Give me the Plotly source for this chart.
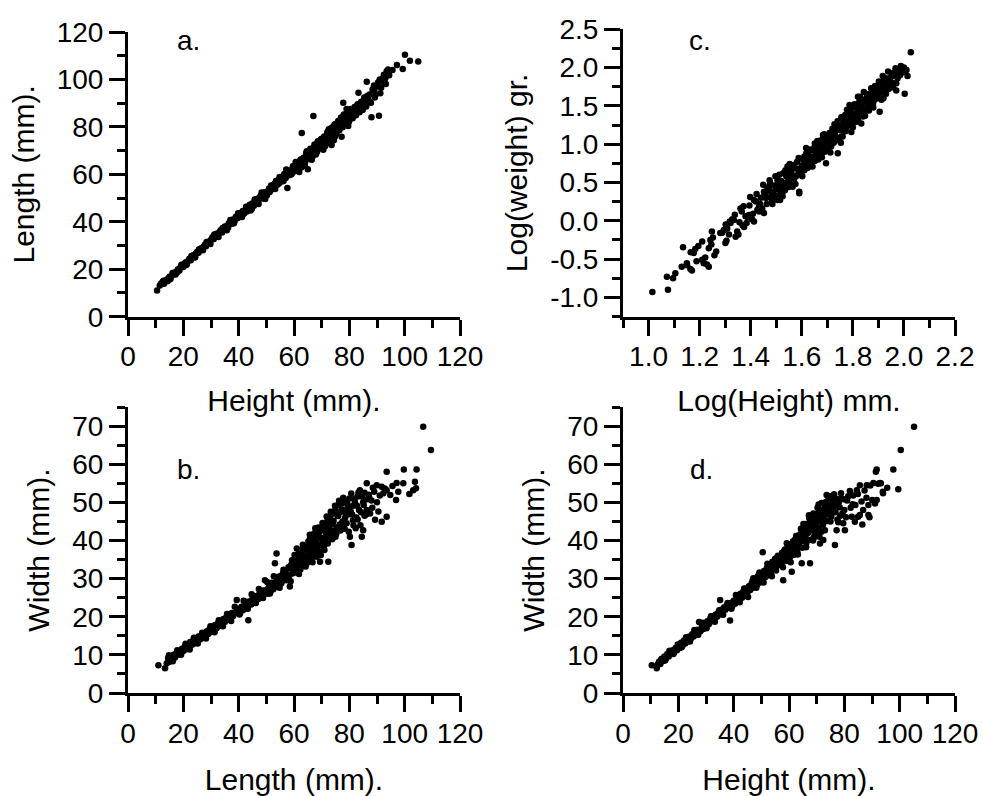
import plotly.graph_objects as go

# ---------------- data ----------------
# Panel a: Length vs Height
a_height = [
    10.5, 11.5, 12.0, 12.5, 13.0, 13.3, 13.8, 14.2, 14.6, 15.0,
    15.4, 15.8, 16.3, 16.8, 17.2, 17.7, 18.1, 18.6, 19.0, 19.5,
    20.0, 20.4, 20.9, 21.3, 21.8, 22.2, 22.7, 23.1, 23.6, 24.0,
    24.5, 25.0, 25.5, 26.0, 26.4, 26.9, 27.3, 27.8, 28.2, 28.7,
    29.1, 29.6, 30.0, 30.5, 31.0, 31.5, 32.0, 32.5, 33.0, 33.5,
    34.0, 34.5, 35.0, 35.5, 36.0, 36.5, 37.0, 37.5, 38.0, 38.5,
    39.0, 39.5, 40.0, 40.5, 41.0, 41.5, 42.0, 42.5, 43.0, 43.5,
    44.0, 44.8, 45.0, 45.5, 46.0, 46.5, 47.0, 47.5, 48.0, 48.5,
    49.0, 49.5, 49.6, 50.5, 51.0, 51.5, 52.0, 52.5, 53.0, 53.5,
    54.0, 54.5, 55.0, 55.5, 56.0, 56.5, 57.0, 57.5, 57.6, 58.5,
    59.0, 59.5, 60.0, 60.5, 61.0, 61.5, 62.0, 62.5, 62.8, 63.0,
    63.5, 64.0, 64.5, 65.0, 65.0, 65.5, 66.0, 66.5, 67.0, 67.0,
    67.5, 68.0, 68.5, 69.0, 69.5, 70.0, 70.5, 71.0, 71.5, 72.0,
    72.5, 73.0, 73.5, 74.0, 74.5, 75.0, 75.5, 76.0, 76.5, 77.0,
    77.2, 77.5, 77.8, 78.0, 78.5, 79.0, 79.5, 80.0, 80.5, 81.0,
    82.0, 82.5, 83.0, 83.3, 83.5, 84.5, 85.0, 85.5, 86.0, 86.3,
    86.5, 87.0, 88.0, 89.0, 89.5, 90.0, 90.7, 91.0, 91.5, 92.0,
    92.5, 93.0, 93.5, 94.0, 95.6, 97.2, 99.3, 100.1, 101.9, 104.9,
    58.0, 60.2, 62.2, 64.2, 66.2, 68.2, 70.2, 72.2, 74.2, 76.2,
    78.2, 80.2, 81.5, 84.0, 75.0, 71.0, 69.0, 73.0, 79.0, 82.0,
    73.6, 63.6, 49.5, 44.1,
    36.2, 38.8, 41.3, 43.8, 46.3, 48.8, 51.2, 52.8, 54.6, 56.3,
    57.8, 58.8, 59.6, 60.8, 61.6, 62.4, 63.2, 64.4, 65.3, 65.9,
    66.7, 67.4, 68.3, 68.9, 69.7, 70.4, 70.9, 71.7, 72.3, 72.9,
    73.4, 74.1, 74.6, 75.3, 75.8, 76.4, 76.9, 77.6, 78.3, 78.8,
    79.4, 79.9, 80.6, 81.2, 81.8, 82.4, 83.1, 83.7, 84.3, 84.8,
    85.4, 86.1, 86.7, 87.3, 87.8, 88.4, 89.2, 90.3, 91.2, 92.2,
    93.2, 94.4, 90.8, 88.9, 61.9, 63.9, 67.9, 71.3, 74.8, 79.6,
    12.8, 14.9, 16.1, 17.9, 19.3, 21.1, 22.9, 24.3, 25.7, 27.1,
    28.4, 29.8, 31.2, 32.7, 34.2, 35.7, 37.2, 38.3, 39.8, 41.2,
    42.7, 44.3, 45.8, 47.2, 48.3, 50.2, 51.7, 53.2, 54.8, 56.2,
    57.2, 59.2, 60.6, 62.6, 64.6, 66.4, 68.6, 70.6, 72.6, 74.4,
]
a_length = [
    11.0, 13.2, 14.0, 14.6, 13.9, 15.0, 15.5, 14.9, 16.2, 16.8,
    16.0, 17.4, 17.9, 18.6, 17.8, 19.3, 20.0, 19.5, 20.8, 21.6,
    21.0, 22.3, 23.0, 22.2, 23.6, 24.4, 23.8, 25.2, 25.9, 25.0,
    26.6, 27.4, 26.9, 28.1, 28.9, 28.3, 29.5, 30.3, 29.7, 30.9,
    31.6, 31.0, 32.4, 33.5, 32.8, 34.0, 35.0, 34.2, 35.6, 36.4,
    35.5, 37.2, 38.0, 36.9, 38.5, 39.5, 40.8, 39.2, 41.0, 40.3,
    42.1, 41.5, 43.0, 42.0, 43.8, 44.6, 43.5, 45.2, 44.3, 46.0,
    47.2, 45.5, 47.8, 46.8, 48.5, 49.6, 48.2, 50.2, 51.0, 49.8,
    51.6, 52.5, 49.6, 52.9, 54.0, 53.2, 55.0, 54.3, 56.0, 57.2,
    55.6, 57.8, 58.6, 57.0, 59.2, 60.2, 58.5, 60.8, 54.2, 61.5,
    60.0, 62.5, 61.2, 63.5, 62.0, 64.2, 65.5, 63.5, 77.4, 66.2,
    67.0, 65.0, 67.8, 69.0, 62.2, 66.5, 70.0, 68.0, 84.6, 71.2,
    69.5, 72.5, 70.2, 73.8, 71.5, 75.0, 72.8, 76.0, 74.0, 77.5,
    75.2, 78.8, 76.5, 80.0, 77.6, 81.2, 78.8, 82.5, 80.0, 84.0,
    75.9, 81.5, 90.2, 85.2, 82.6, 84.0, 86.5, 83.0, 87.5, 84.5,
    88.5, 86.0, 89.5, 94.4, 87.5, 90.0, 88.0, 91.5, 89.5, 99.0,
    93.0, 91.0, 84.1, 95.5, 93.5, 97.0, 84.7, 100.0, 96.5, 99.0,
    102.0, 100.5, 103.5, 104.2, 104.0, 106.1, 104.4, 110.4, 107.9, 107.6,
    59.5, 62.8, 64.0, 66.8, 68.8, 71.0, 73.5, 76.0, 78.5, 80.8,
    83.5, 85.5, 86.8, 88.8, 79.5, 73.2, 72.5, 77.2, 87.5, 85.5,
    72.4, 63.6, 50.7, 45.9,
    37.6, 41.2, 42.8, 45.9, 47.9, 51.7, 52.6, 55.6, 56.2, 58.9,
    61.1, 59.9, 63.4, 62.9, 65.1, 66.3, 64.1, 68.9, 67.2, 70.8,
    67.4, 72.6, 69.4, 71.9, 74.7, 71.1, 75.8, 73.1, 78.2, 74.6,
    79.4, 75.7, 80.9, 77.1, 82.0, 78.6, 83.1, 79.8, 84.6, 81.3,
    85.8, 82.2, 86.3, 83.6, 87.9, 84.9, 88.4, 86.2, 90.6, 87.1,
    92.4, 88.6, 91.8, 93.7, 90.2, 95.8, 92.4, 98.6, 94.2, 100.6,
    98.1, 101.8, 99.1, 97.4, 61.0, 64.3, 68.4, 71.9, 76.0, 80.4,
    15.2, 15.6, 18.4, 18.8, 21.9, 21.8, 25.6, 25.1, 28.4, 28.0,
    31.5, 30.6, 34.6, 33.6, 37.4, 36.4, 40.2, 39.4, 43.6, 42.0,
    46.3, 44.8, 49.4, 47.5, 52.3, 51.2, 55.3, 53.8, 58.9, 57.2,
    62.0, 60.3, 65.2, 62.9, 69.7, 66.2, 73.9, 70.4, 79.0, 74.4,
]

# Panel c: Log(weight) vs Log(Height)
c_log_height = [
    1.015, 1.076, 1.072, 1.096, 1.105, 1.135, 1.130, 1.150, 1.170, 1.177,
    1.183, 1.210, 1.210, 1.216, 1.236, 1.236, 1.242, 1.248, 1.258, 1.281,
    1.295, 1.301, 1.318, 1.334, 1.341, 1.347, 1.360, 1.374, 1.387, 1.413,
    1.413, 1.426, 1.432, 1.452, 1.466, 1.472, 1.479, 1.505, 1.518, 1.531,
    1.538, 1.557, 1.564, 1.571, 1.590, 1.597, 1.610, 1.617, 1.630, 1.643,
    1.662, 1.676, 1.695, 1.702, 1.715, 1.735, 1.741, 1.754, 1.767, 1.780,
    1.787, 1.794, 1.820, 1.820, 1.833, 1.853, 1.866, 1.879, 1.886, 1.905,
    1.918, 1.930, 1.944, 1.963, 1.970, 1.990, 2.003, 2.010, 2.014, 2.027,
    1.151, 1.164, 1.188, 1.165, 1.195, 1.222, 1.229, 1.246, 1.252, 1.265,
    1.288, 1.305, 1.308, 1.321, 1.328, 1.352, 1.365, 1.368, 1.380, 1.393,
    1.405, 1.420, 1.433, 1.445, 1.458, 1.466, 1.479, 1.492, 1.505, 1.518,
    1.544, 1.564, 1.590, 1.485, 1.498, 1.512, 1.525, 1.440, 1.455, 1.395,
    1.520, 1.530, 1.540, 1.550, 1.560, 1.570, 1.580, 1.585, 1.600, 1.605,
    1.610, 1.620, 1.625, 1.630, 1.640, 1.645, 1.650, 1.655, 1.660, 1.665,
    1.670, 1.675, 1.680, 1.685, 1.690, 1.700, 1.705, 1.710, 1.715, 1.720,
    1.725, 1.730, 1.735, 1.740, 1.745, 1.750, 1.755, 1.760, 1.765, 1.770,
    1.775, 1.780, 1.785, 1.790, 1.795, 1.800, 1.805, 1.810, 1.815, 1.820,
    1.825, 1.830, 1.835, 1.840, 1.845, 1.850, 1.855, 1.860, 1.865, 1.870,
    1.875, 1.880, 1.885, 1.890, 1.895, 1.900, 1.905, 1.910, 1.915, 1.920,
    1.925, 1.930, 1.935, 1.940, 1.950, 1.955, 1.960, 1.975, 1.980, 1.985,
    2.000, 1.995, 1.760, 1.800, 1.840, 1.880, 1.920, 1.970, 1.690, 1.650,
    1.452, 1.463, 1.476, 1.488, 1.497, 1.508, 1.515, 1.527, 1.534, 1.546,
    1.553, 1.561, 1.575, 1.582, 1.593, 1.602, 1.614, 1.622, 1.634, 1.642,
    1.653, 1.661, 1.668, 1.679, 1.688, 1.696, 1.704, 1.712, 1.722, 1.728,
    1.737, 1.748, 1.753, 1.762, 1.771, 1.777, 1.783, 1.792, 1.798, 1.807,
    1.812, 1.823, 1.828, 1.837, 1.843, 1.848, 1.858, 1.863, 1.872, 1.877,
    1.887, 1.893, 1.902, 1.908, 1.917, 1.923, 1.933, 1.938, 1.946, 1.953,
    1.967, 1.978, 1.988, 1.958, 1.912, 1.868, 1.826, 1.786, 1.746, 1.706,
    1.302, 1.315, 1.338, 1.356, 1.372, 1.384, 1.398, 1.409, 1.423, 1.437,
    1.449, 1.461, 1.474, 1.483, 1.494, 1.503, 1.512, 1.523, 1.536, 1.548,
    1.566, 1.578, 1.588, 1.607, 1.618, 1.636, 1.651, 1.667, 1.683, 1.698,
]
c_log_weight = [
    -0.93, -0.90, -0.73, -0.75, -0.685, -0.346, -0.60, -0.555, -0.65, -0.42,
    -0.37, -0.27, -0.51, -0.555, -0.60, -0.36, -0.25, -0.14, -0.45, -0.16,
    -0.12, -0.29, -0.01, 0.01, -0.21, -0.14, 0.16, -0.08, 0.05, -0.01,
    0.27, 0.14, 0.18, 0.10, 0.40, 0.445, 0.315, 0.27, 0.36, 0.49,
    0.60, 0.66, 0.445, 0.73, 0.36, 0.62, 0.84, 0.95, 0.71, 0.79,
    1.01, 0.88, 0.75, 1.055, 0.97, 1.25, 0.88, 1.10, 1.23, 1.34,
    1.51, 1.16, 1.62, 1.32, 1.27, 1.45, 1.58, 1.53, 1.64, 1.425,
    1.75, 1.66, 1.84, 1.90, 1.795, 1.99, 1.66, 1.97, 1.89, 2.20,
    -0.58, -0.63, -0.53, -0.41, -0.33, -0.48, -0.57, -0.31, -0.22, -0.40,
    -0.155, -0.26, -0.10, -0.03, 0.02, -0.18, 0.12, -0.06, 0.06, 0.075,
    0.02, 0.25, 0.12, 0.16, 0.30, 0.43, 0.38, 0.315, 0.53, 0.40,
    0.71, 0.47, 0.38, 0.22, 0.42, 0.47, 0.32, 0.30, 0.35, 0.20,
    0.52, 0.45, 0.58, 0.50, 0.62, 0.55, 0.68, 0.60, 0.72, 0.80,
    0.66, 0.78, 0.86, 0.80, 0.92, 0.84, 0.96, 0.86, 0.90, 0.80,
    0.98, 1.05, 0.93, 1.08, 1.00, 1.12, 0.96, 1.15, 1.07, 1.20,
    1.02, 1.12, 1.18, 1.30, 1.08, 1.25, 1.35, 1.18, 1.28, 1.38,
    1.22, 1.30, 1.42, 1.35, 1.26, 1.40, 1.32, 1.48, 1.38, 1.44,
    1.55, 1.40, 1.50, 1.58, 1.45, 1.55, 1.62, 1.50, 1.66, 1.56,
    1.62, 1.70, 1.58, 1.68, 1.74, 1.62, 1.72, 1.78, 1.68, 1.82,
    1.74, 1.86, 1.78, 1.72, 1.88, 1.80, 1.92, 1.86, 1.96, 1.90,
    2.00, 1.94, 1.10, 1.22, 1.36, 1.48, 1.60, 1.70, 0.90, 0.78,
    0.38, 0.22, 0.49, 0.36, 0.58, 0.41, 0.27, 0.62, 0.40, 0.53,
    0.74, 0.57, 0.48, 0.77, 0.67, 0.58, 0.74, 0.69, 0.93, 0.71,
    0.79, 1.04, 0.91, 0.83, 1.13, 0.92, 1.02, 0.89, 1.10, 1.26,
    1.05, 1.19, 1.02, 1.33, 1.17, 1.45, 1.25, 1.46, 1.31, 1.52,
    1.29, 1.36, 1.62, 1.43, 1.68, 1.37, 1.55, 1.44, 1.73, 1.51,
    1.76, 1.60, 1.82, 1.67, 1.89, 1.70, 1.80, 1.95, 1.77, 1.93,
    1.99, 1.92, 2.02, 1.74, 1.58, 1.61, 1.47, 1.35, 1.22, 1.09,
    -0.05, -0.18, 0.08, -0.02, 0.19, -0.03, 0.31, 0.09, 0.35, 0.22,
    0.47, 0.30, 0.53, 0.27, 0.46, 0.33, 0.60, 0.36, 0.66, 0.44,
    0.72, 0.58, 0.82, 0.68, 0.88, 0.74, 1.01, 0.87, 1.12, 0.98,
]

# Panel b: Width vs Length
b_length = [
    11.0, 13.4, 14.0, 14.5, 15.0, 15.5, 16.0, 16.5, 17.0, 17.5,
    18.0, 18.5, 19.0, 19.5, 20.0, 20.5, 21.0, 21.5, 22.0, 22.5,
    23.0, 23.5, 24.0, 24.5, 25.0, 25.5, 26.0, 26.5, 27.0, 27.5,
    28.0, 28.5, 29.0, 29.5, 30.0, 30.5, 31.0, 31.5, 32.0, 32.5,
    33.0, 33.5, 34.0, 34.5, 35.0, 35.5, 36.0, 36.5, 37.0, 37.5,
    38.0, 39.0, 39.3, 40.0, 40.5, 41.0, 42.0, 42.5, 43.0, 43.5,
    44.0, 44.5, 45.0, 45.5, 46.0, 47.0, 47.5, 48.0, 48.5, 49.0,
    49.5, 50.0, 50.5, 51.0, 51.5, 52.0, 52.5, 53.0, 53.1, 53.5,
    53.7, 54.0, 54.5, 55.0, 55.5, 56.0, 56.5, 57.0, 57.5, 58.0,
    58.5, 58.5, 59.0, 59.7, 60.0, 60.5, 61.0, 61.0, 61.5, 62.0,
    62.5, 63.0, 63.5, 64.0, 64.5, 65.0, 65.2, 65.5, 66.0, 66.5,
    67.0, 67.5, 68.0, 68.2, 68.5, 69.0, 69.4, 69.5, 70.0, 70.5,
    71.0, 71.5, 72.0, 72.4, 72.5, 73.0, 73.0, 73.5, 74.0, 74.5,
    75.0, 75.5, 76.0, 76.5, 77.0, 77.2, 77.5, 78.0, 78.5, 79.0,
    79.0, 79.5, 80.0, 80.2, 80.5, 80.8, 81.0, 81.5, 82.0, 82.5,
    83.0, 83.5, 83.8, 84.0, 84.5, 85.0, 85.0, 85.5, 86.3, 86.3,
    87.0, 87.5, 88.0, 89.3, 89.9, 90.0, 91.7, 91.7, 92.3, 93.5,
    93.5, 93.5, 96.9, 97.1, 97.7, 99.5, 99.7, 101.7, 103.1, 103.7,
    104.1, 104.3, 106.7, 109.5, 58.0, 62.0, 64.0, 66.0, 68.0, 70.0,
    72.0, 74.0, 76.0, 78.0, 75.0, 71.0, 67.0, 63.0, 60.0, 57.0,
    55.0, 79.5, 81.0, 83.0, 85.5, 88.5, 84.5, 86.5,
    41.5, 43.2, 44.8, 46.4, 47.8, 49.2, 50.7, 51.8, 52.9, 54.2,
    55.3, 56.2, 57.3, 58.3, 59.3, 59.9, 60.8, 61.7, 62.3, 63.3,
    63.8, 64.7, 65.3, 65.8, 66.3, 66.8, 67.3, 67.8, 68.3, 68.8,
    69.2, 69.8, 70.3, 70.8, 71.3, 71.8, 72.2, 72.8, 73.3, 73.8,
    74.3, 74.8, 75.3, 75.8, 76.3, 76.8, 77.3, 77.8, 78.3, 78.8,
    79.3, 79.8, 80.3, 80.7, 81.3, 81.8, 82.3, 82.8, 83.3, 84.2,
    85.2, 86.0, 87.2, 88.3, 89.0, 90.5, 91.0, 92.8, 94.8, 95.6,
    14.8, 16.2, 17.8, 19.2, 20.8, 22.3, 23.8, 25.2, 26.8, 28.2,
    29.8, 31.3, 32.8, 34.3, 35.8, 37.3, 38.6, 40.3, 41.8, 43.3,
    44.7, 46.2, 47.3, 48.8, 50.3, 51.3, 52.7, 54.8, 56.8, 58.8,
    60.2, 61.8, 63.2, 64.2, 65.7, 66.7, 67.7, 69.7, 71.7, 73.7,
]
b_width = [
    7.3, 6.5, 7.8, 9.2, 8.2, 9.5, 8.8, 10.0, 9.3, 10.4,
    10.0, 11.0, 10.4, 11.6, 11.0, 12.2, 11.5, 12.8, 12.0, 13.4,
    12.6, 13.6, 13.0, 14.2, 13.6, 14.8, 14.0, 15.0, 14.4, 15.6,
    15.0, 16.2, 15.5, 16.8, 16.0, 17.4, 16.6, 17.8, 17.0, 18.2,
    17.6, 18.8, 18.0, 19.4, 18.6, 19.8, 19.2, 20.4, 19.6, 21.0,
    20.2, 21.0, 24.4, 22.0, 21.0, 22.6, 22.0, 23.4, 22.8, 19.1,
    24.0, 23.2, 24.8, 24.0, 25.4, 24.6, 26.0, 25.2, 26.8, 25.8,
    29.6, 27.0, 26.0, 27.8, 26.6, 28.4, 27.2, 29.0, 34.0, 27.8,
    36.6, 29.8, 28.4, 30.6, 29.0, 31.4, 29.8, 32.2, 30.4, 33.0,
    27.9, 31.0, 33.6, 31.4, 34.4, 32.0, 35.2, 37.9, 32.8, 36.0,
    33.6, 36.8, 34.4, 37.6, 35.2, 38.4, 39.7, 35.8, 39.0, 36.4,
    40.0, 37.2, 41.0, 35.7, 38.0, 42.0, 34.4, 38.8, 43.0, 39.6,
    44.0, 40.4, 45.0, 34.4, 41.0, 42.7, 46.0, 41.8, 47.0, 42.6,
    48.0, 43.4, 49.3, 44.2, 47.5, 49.7, 45.0, 48.0, 46.0, 44.5,
    50.0, 46.8, 51.0, 41.0, 47.5, 38.8, 49.0, 44.0, 50.0, 46.0,
    51.5, 48.0, 53.2, 44.0, 41.0, 42.7, 50.0, 46.5, 55.0, 48.0,
    52.0, 47.1, 50.5, 45.4, 54.5, 50.0, 54.1, 44.9, 52.4, 58.0,
    53.2, 46.2, 50.6, 55.1, 52.8, 55.0, 58.6, 52.2, 53.2, 55.4,
    53.7, 58.6, 69.8, 63.7, 30.0, 34.5, 35.0, 37.5, 39.5, 40.5,
    43.0, 44.5, 46.5, 44.0, 41.0, 37.5, 38.5, 35.5, 32.8, 31.0,
    29.4, 48.8, 46.8, 45.5, 52.5, 53.8, 51.5, 50.8,
    21.7, 23.9, 23.5, 24.7, 26.5, 26.9, 27.4, 28.9, 28.1, 30.4,
    28.7, 32.3, 29.6, 32.7, 34.8, 31.9, 33.9, 36.6, 32.4, 37.9,
    35.9, 34.1, 37.2, 40.6, 35.1, 38.3, 41.8, 36.3, 39.2, 43.4,
    37.1, 40.7, 44.6, 38.4, 42.2, 46.3, 39.2, 43.8, 47.5, 40.3,
    45.2, 49.1, 41.8, 46.4, 50.4, 42.6, 48.1, 51.2, 43.1, 47.2,
    49.5, 42.3, 48.6, 52.3, 45.3, 50.9, 43.2, 49.1, 52.6, 47.4,
    49.3, 46.8, 51.2, 48.6, 52.8, 47.6, 51.8, 53.6, 51.9, 54.3,
    9.9, 8.3, 11.2, 10.0, 12.9, 11.4, 14.5, 13.0, 15.8, 14.3,
    17.5, 15.9, 19.1, 17.5, 20.7, 18.9, 22.6, 20.6, 24.2, 22.1,
    25.9, 23.6, 27.3, 24.9, 29.1, 26.1, 30.6, 27.6, 31.3, 29.3,
    36.2, 31.2, 38.9, 33.2, 41.5, 34.3, 43.2, 36.2, 41.1, 44.3,
]

# Panel d: Width vs Height
d_height = [
    10.4, 12.2, 12.5, 13.0, 13.5, 14.0, 14.5, 15.0, 15.5, 16.0,
    16.5, 17.0, 17.5, 18.0, 18.5, 19.0, 19.5, 20.0, 20.5, 21.0,
    21.5, 22.0, 22.5, 23.0, 23.5, 24.0, 24.5, 25.0, 25.5, 26.0,
    26.5, 27.0, 27.5, 28.0, 28.5, 29.0, 29.5, 30.0, 30.5, 31.0,
    31.5, 32.0, 32.5, 33.0, 33.5, 34.0, 34.5, 35.0, 35.1, 35.5,
    36.0, 36.5, 37.0, 37.5, 38.0, 38.7, 39.0, 39.5, 40.0, 40.5,
    41.0, 41.7, 42.0, 42.5, 43.0, 43.5, 44.0, 44.5, 45.0, 45.5,
    46.0, 46.5, 47.0, 47.1, 47.7, 48.0, 48.5, 49.0, 49.5, 50.0,
    50.5, 50.5, 51.0, 51.5, 52.0, 52.5, 53.0, 53.5, 54.0, 54.5,
    55.0, 55.5, 56.0, 56.5, 57.0, 57.5, 57.9, 58.0, 58.5, 59.0,
    59.5, 60.0, 60.5, 61.0, 61.0, 61.5, 62.0, 62.5, 63.0, 63.5,
    64.0, 64.5, 64.6, 65.0, 65.5, 66.0, 66.5, 67.0, 67.6, 67.5,
    68.0, 68.5, 69.0, 69.5, 70.0, 70.5, 71.0, 71.2, 71.5, 72.0,
    72.4, 72.5, 73.0, 73.0, 73.6, 74.0, 74.2, 74.5, 75.0, 75.5,
    76.0, 76.6, 76.5, 77.0, 77.2, 77.5, 78.0, 78.5, 79.0, 79.6,
    80.0, 80.2, 81.0, 82.0, 82.7, 83.0, 83.8, 84.5, 85.0, 85.6,
    85.6, 86.8, 88.1, 88.7, 88.7, 90.5, 91.1, 91.4, 91.7, 91.7,
    92.9, 93.9, 94.0, 95.5, 97.7, 99.5, 100.4, 105.2, 55.0, 58.0,
    60.0, 62.0, 64.0, 66.0, 68.0, 70.0, 72.0, 69.0, 75.0, 63.0,
    53.0, 57.0,
    41.3, 42.8, 44.2, 45.7, 47.3, 48.7, 49.8, 51.2, 52.3, 53.3,
    54.2, 55.3, 56.2, 57.3, 58.2, 58.8, 59.7, 60.3, 60.8, 61.7,
    62.3, 62.8, 63.7, 64.3, 64.8, 65.3, 65.8, 66.3, 66.8, 67.3,
    67.8, 68.3, 68.8, 69.3, 69.8, 70.3, 70.8, 71.3, 71.8, 72.3,
    72.8, 73.3, 73.8, 74.3, 74.8, 75.3, 75.8, 76.3, 76.8, 77.3,
    77.8, 78.3, 78.8, 79.3, 79.8, 80.6, 81.4, 82.3, 83.2, 84.0,
    84.9, 86.2, 87.3, 88.0, 89.4, 90.1, 86.5, 89.1, 92.2, 93.2,
    13.8, 15.2, 16.8, 18.2, 19.8, 21.2, 22.8, 24.2, 25.8, 27.2,
    28.8, 30.2, 31.8, 33.2, 34.8, 36.2, 37.8, 39.2, 40.8, 42.2,
    43.8, 45.2, 46.8, 48.2, 49.3, 50.8, 52.2, 53.8, 55.8, 57.8,
    59.2, 60.6, 62.6, 63.2, 65.2, 66.2, 67.2, 68.7, 70.7, 71.7,
]
d_width = [
    7.3, 6.5, 7.4, 8.2, 7.6, 9.0, 8.4, 9.6, 9.0, 10.2,
    9.6, 10.6, 10.2, 11.2, 10.6, 11.8, 11.2, 12.6, 11.8, 13.2,
    12.4, 13.8, 13.0, 14.2, 13.6, 14.8, 14.2, 15.4, 14.8, 16.0,
    15.4, 16.6, 18.6, 16.2, 17.6, 16.8, 18.2, 17.6, 18.8, 18.0,
    19.4, 18.8, 20.0, 19.2, 20.6, 20.0, 21.2, 20.6, 24.4, 21.8,
    21.2, 22.4, 21.8, 23.0, 22.4, 19.0, 23.6, 22.8, 24.2, 23.4,
    25.0, 25.7, 24.4, 26.0, 25.0, 26.6, 25.8, 27.4, 26.4, 28.0,
    27.0, 28.8, 27.6, 30.1, 29.2, 29.4, 28.4, 30.2, 29.0, 31.0,
    36.9, 29.8, 32.0, 30.4, 32.8, 31.2, 33.6, 31.8, 34.4, 32.6,
    35.2, 33.2, 36.0, 34.0, 34.8, 36.8, 29.6, 35.4, 37.6, 36.0,
    38.4, 36.8, 39.0, 31.8, 37.4, 39.8, 38.0, 40.6, 38.8, 41.4,
    39.6, 42.2, 34.0, 40.4, 43.0, 41.2, 44.0, 42.0, 34.0, 44.8,
    42.8, 45.6, 43.6, 46.4, 44.4, 47.2, 41.0, 39.2, 45.2, 48.0,
    40.1, 46.0, 42.7, 48.8, 51.9, 46.8, 50.6, 49.6, 47.6, 50.4,
    48.4, 38.8, 51.2, 49.2, 42.7, 45.5, 50.0, 46.5, 51.0, 44.5,
    48.0, 42.7, 50.5, 53.0, 46.2, 49.5, 44.9, 53.2, 46.2, 54.5,
    46.7, 48.0, 54.5, 49.3, 46.7, 55.1, 49.7, 58.0, 58.6, 50.6,
    55.1, 52.8, 52.4, 53.8, 58.6, 53.4, 63.7, 69.8, 33.5, 36.2,
    35.0, 39.2, 41.0, 39.8, 44.0, 42.5, 45.5, 40.8, 45.0, 37.0,
    32.0, 35.5,
    24.1, 25.6, 26.9, 27.1, 28.4, 30.6, 29.6, 31.3, 30.9, 32.9,
    33.8, 32.1, 34.7, 33.5, 37.2, 34.6, 37.7, 35.6, 38.9, 36.2,
    40.3, 37.5, 39.7, 43.1, 38.1, 41.6, 44.3, 39.4, 42.9, 45.9,
    40.2, 44.8, 47.1, 41.7, 45.3, 48.6, 43.2, 46.6, 49.8, 44.1,
    47.5, 50.1, 45.1, 48.3, 51.6, 46.3, 49.6, 52.1, 47.4, 50.9,
    44.8, 48.7, 52.4, 47.1, 50.8, 46.1, 51.6, 48.6, 51.8, 49.3,
    52.2, 50.2, 53.1, 51.2, 54.4, 50.6, 44.2, 46.1, 54.9, 55.0,
    8.7, 8.5, 11.1, 10.2, 12.7, 12.0, 14.6, 13.5, 16.5, 15.3,
    18.4, 17.0, 20.1, 18.7, 21.7, 20.5, 23.6, 22.1, 25.7, 23.8,
    27.4, 25.2, 29.4, 27.6, 31.6, 29.0, 33.9, 30.6, 35.6, 33.0,
    39.3, 34.3, 41.2, 36.3, 44.3, 38.2, 46.6, 40.0, 49.4, 42.3,
]

# Tick labels
mm_ticks = [0, 20, 40, 60, 80, 100, 120]
mm_ticktext = ["0", "20", "40", "60", "80", "100", "120"]
width_ticks = [0, 10, 20, 30, 40, 50, 60, 70]
width_ticktext = ["0", "10", "20", "30", "40", "50", "60", "70"]
logh_ticks = [1.0, 1.2, 1.4, 1.6, 1.8, 2.0, 2.2]
logh_ticktext = ["1.0", "1.2", "1.4", "1.6", "1.8", "2.0", "2.2"]
logw_ticks = [-1.0, -0.5, 0.0, 0.5, 1.0, 1.5, 2.0, 2.5]
logw_ticktext = ["-1.0", "-0.5", "0.0", "0.5", "1.0", "1.5", "2.0", "2.5"]

panel_labels = ["a.", "c.", "b.", "d."]

assert len(a_height) == len(a_length)
assert len(c_log_height) == len(c_log_weight)
assert len(b_length) == len(b_width)
assert len(d_height) == len(d_width)

# ---------------- figure ----------------
FONT = "Liberation Sans, Arial, Helvetica, sans-serif"
TICK_SIZE = 28
TITLE_SIZE = 30
W, H = 983, 796


def px_x(px):
    return px / W


def px_y(py):
    return 1 - py / H


fig = go.Figure()
series = [
    ("x", "y", a_height, a_length),
    ("x2", "y2", c_log_height, c_log_weight),
    ("x3", "y3", b_length, b_width),
    ("x4", "y4", d_height, d_width),
]
for xa, ya, xs, ys in series:
    fig.add_trace(go.Scatter(
        x=xs, y=ys, mode="markers", xaxis=xa, yaxis=ya,
        marker=dict(color="black", size=6.5, line=dict(width=0)),
        showlegend=False, hoverinfo="skip",
    ))


def make_axis(domain, rng, tickvals, ticktext, minor_tick0, minor_dtick,
              anchor, title, standoff, label_standoff):
    return dict(
        domain=domain, range=rng, anchor=anchor,
        tickmode="array", tickvals=tickvals, ticktext=ticktext,
        ticks="outside", ticklen=16, tickwidth=3, tickcolor="black",
        ticklabelstandoff=label_standoff,
        showline=True, linewidth=3, linecolor="black",
        showgrid=False, zeroline=False, automargin=False, fixedrange=True,
        tickfont=dict(family=FONT, size=TICK_SIZE, color="black"),
        title=dict(text=title, standoff=standoff,
                   font=dict(family=FONT, size=TITLE_SIZE, color="black")),
        minor=dict(tickmode="linear", tick0=minor_tick0, dtick=minor_dtick,
                   ticks="outside", ticklen=8, tickwidth=3,
                   tickcolor="black", showgrid=False),
    )


XL = [px_x(128), px_x(460)]
XR = [px_x(623), px_x(955)]
YT_a = [px_y(316.7), px_y(32)]
YT_c = [px_y(316.5), px_y(29.3)]
YB = [px_y(693), px_y(407)]

XS_TOP, XS_BOT, YS = 19, 22, 14  # title standoffs
XL_SO, YL_SO = -3, 0  # tick-label standoffs

fig.update_layout(
    width=W, height=H,
    margin=dict(l=0, r=0, t=0, b=0),
    paper_bgcolor="white", plot_bgcolor="white",
    font=dict(family=FONT, color="black"),
    xaxis=make_axis(XL, [0, 120], mm_ticks, mm_ticktext, 0, 10, "y", "Height (mm).", XS_TOP, XL_SO),
    yaxis=make_axis(YT_a, [0, 120], mm_ticks, mm_ticktext, 0, 10, "x", "Length (mm).", YS, YL_SO),
    xaxis2=make_axis(XR, [0.9, 2.2], logh_ticks, logh_ticktext, 0.9, 0.1, "y2", "Log(Height) mm.", XS_TOP, XL_SO),
    yaxis2=make_axis(YT_c, [-1.25, 2.5], logw_ticks, logw_ticktext, -1.25, 0.25, "x2", "Log(weight) gr.", YS, YL_SO),
    xaxis3=make_axis(XL, [0, 120], mm_ticks, mm_ticktext, 0, 10, "y3", "Length (mm).", XS_BOT, XL_SO),
    yaxis3=make_axis(YB, [0, 75], width_ticks, width_ticktext, 0, 5, "x3", "Width (mm).", YS, YL_SO),
    xaxis4=make_axis(XR, [0, 120], mm_ticks, mm_ticktext, 0, 10, "y4", "Height (mm).", XS_BOT, XL_SO),
    yaxis4=make_axis(YB, [0, 75], width_ticks, width_ticktext, 0, 5, "x4", "Width (mm).", YS, YL_SO),
)

label_pos = [("x", "y", 21.9, 116.6), ("x2", "y2", 1.203, 2.36),
             ("x3", "y3", 21.9, 58.5), ("x4", "y4", 28.2, 58.5)]
for text, (xr, yr, lx, ly) in zip(panel_labels, label_pos):
    fig.add_annotation(x=lx, y=ly, xref=xr, yref=yr, text=text, showarrow=False,
                       xanchor="center", yanchor="middle",
                       font=dict(family=FONT, size=28, color="black"))

# remove the browser's default 8px page margin so the figure sits at (0, 0)
fig.write_html(
    "out.html",
    config={"displayModeBar": False, "staticPlot": True},
    post_script="document.body.style.margin='0';"
                "document.documentElement.style.overflow='hidden';",
)
